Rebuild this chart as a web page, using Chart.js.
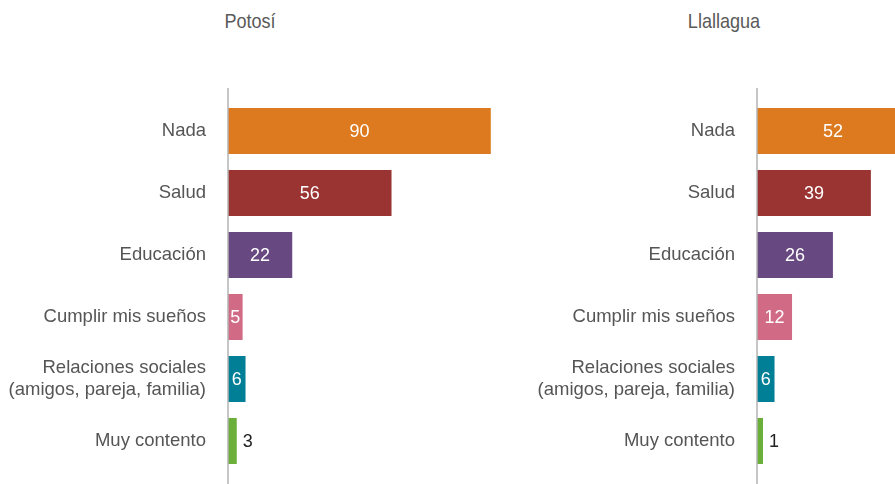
<!DOCTYPE html>
<html>
<head>
<meta charset="utf-8">
<script src="https://cdn.jsdelivr.net/npm/chart.js@4.4.0/dist/chart.umd.min.js"></script>
<style>
  html, body { margin: 0; padding: 0; background: #fff; overflow: hidden; width: 895px; height: 484px; }
  .titulo { position: absolute; top: 9px; font-family: "Liberation Sans", Arial, sans-serif; font-size: 21px; color: #5a5a5a; transform: translateX(-50%) scaleX(0.86); white-space: nowrap; }
  .panel { position: absolute; top: 0; width: 520px; height: 484px; }
</style>
</head>
<body>
<div class="titulo" style="left:250px">Potosí</div>
<div class="titulo" style="left:724px">Llallagua</div>
<div class="panel" style="left:0px"><canvas id="potosi" width="520" height="484"></canvas></div>
<div class="panel" style="left:529px"><canvas id="llallagua" width="520" height="484"></canvas></div>
<script>
const categorias = [
  "Nada",
  "Salud",
  "Educación",
  "Cumplir mis sueños",
  ["Relaciones sociales", "(amigos, pareja, familia)"],
  "Muy contento"
];
const valoresPotosi = [90, 56, 22, 5, 6, 3];
const valoresLlallagua = [52, 39, 26, 12, 6, 1];
const colores = ["#DD7A1F", "#993432", "#684880", "#D06A85", "#007F96", "#6AAF3A"];

const fuente = "'Liberation Sans', Arial, Helvetica, sans-serif";

const ejeYPlugin = {
  id: "ejeY",
  afterDatasetsDraw(chart) {
    const ctx = chart.ctx;
    const area = chart.chartArea;
    ctx.save();
    ctx.strokeStyle = "#b3b3b3";
    ctx.lineWidth = 1.5;
    ctx.beginPath();
    ctx.moveTo(area.left, area.top - 12);
    ctx.lineTo(area.left, chart.height);
    ctx.stroke();
    ctx.restore();
  }
};

const etiquetasPlugin = {
  id: "etiquetas",
  afterDatasetsDraw(chart) {
    const ctx = chart.ctx;
    const meta = chart.getDatasetMeta(0);
    const datos = chart.data.datasets[0].data;
    ctx.save();
    ctx.font = "18px " + fuente;
    ctx.textBaseline = "middle";
    meta.data.forEach(function (bar, i) {
      const texto = String(datos[i]);
      const ancho = ctx.measureText(texto).width;
      const largo = bar.x - bar.base;
      if (largo >= ancho + 4) {
        ctx.fillStyle = "#ffffff";
        ctx.textAlign = "center";
        ctx.fillText(texto, (bar.x + bar.base) / 2, bar.y + 1);
      } else {
        ctx.fillStyle = "#222222";
        ctx.textAlign = "left";
        ctx.fillText(texto, bar.x + 6, bar.y + 1);
      }
    });
    ctx.restore();
  }
};

function crearGrafico(id, valores) {
  return new Chart(document.getElementById(id), {
    type: "bar",
    data: {
      labels: categorias,
      datasets: [
        {
          data: valores,
          backgroundColor: colores,
          barPercentage: 46 / 62,
          categoryPercentage: 1,
          minBarLength: 6
        }
      ]
    },
    options: {
      indexAxis: "y",
      responsive: false,
      animation: false,
      layout: { padding: { top: 100, bottom: 12, left: 0, right: 0 } },
      plugins: {
        legend: { display: false },
        tooltip: { enabled: false }
      },
      scales: {
        x: {
          display: false,
          min: 0,
          max: 100
        },
        y: {
          grid: { display: false, drawTicks: false },
          border: { display: false },
          ticks: {
            color: "#555555",
            padding: 22,
            font: { family: fuente, size: 18.5, lineHeight: 1.2 }
          },
          afterFit(scale) {
            scale.width = 228;
            scale.paddingTop = 0;
            scale.paddingBottom = 0;
          }
        }
      }
    },
    plugins: [ejeYPlugin, etiquetasPlugin]
  });
}

crearGrafico("potosi", valoresPotosi);
crearGrafico("llallagua", valoresLlallagua);
</script>
</body>
</html>
